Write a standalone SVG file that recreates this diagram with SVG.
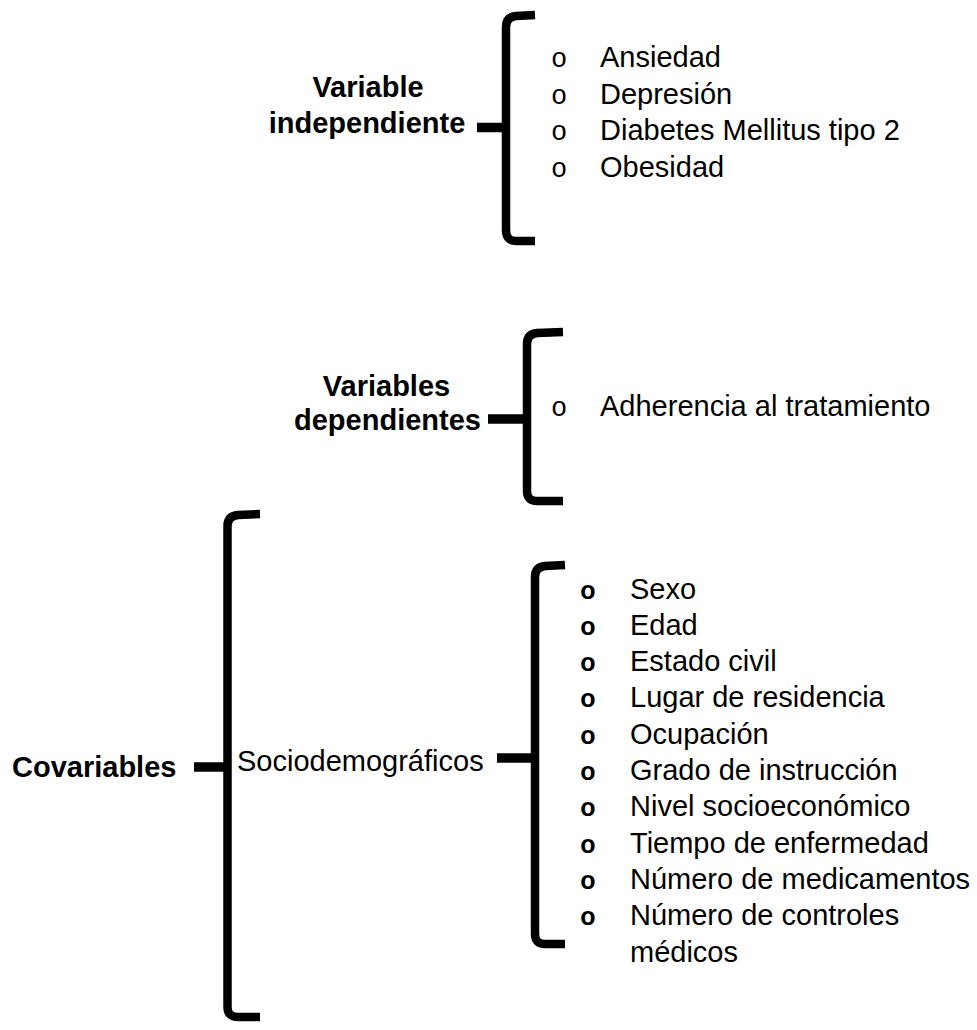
<svg xmlns="http://www.w3.org/2000/svg" width="977" height="1030" viewBox="0 0 977 1030">
<style>
.t{font-family:"Liberation Sans",Arial,sans-serif;font-size:29px;fill:#000}
.b{font-weight:bold;text-anchor:middle}
.bl{font-family:"Liberation Mono","Courier New",monospace;font-size:27px;text-anchor:middle;fill:#000}
.bb{font-family:"Liberation Sans",Arial,sans-serif;font-size:25px;font-weight:bold;text-anchor:middle;fill:#000}
.br{fill:none;stroke:#000;stroke-width:8.5;stroke-linejoin:round}
.st{fill:none;stroke:#000;stroke-width:9.5}
</style>
<rect width="977" height="1030" fill="#fff"/>
<g id="connectors">
<path class="br" d="M535,15 L516,16 Q506,17 506,27 L506,230 Q506,241 516,241 L535,241"/>
<path class="st" d="M477,127.5 L504,127.5"/>
<path class="br" d="M563,332 L537,333 Q527,334 527,344 L527,491 Q527,501 537,501 L563,501"/>
<path class="st" d="M488,419 L525,419"/>
<path class="br" d="M260,514 L238,515 Q227.5,516 227.5,526 L227.5,1007 Q227.5,1017 238,1017 L260,1017"/>
<path class="st" d="M194,767 L225,767"/>
<path class="br" d="M565,565 L545,566 Q535,567 535,577 L535,934 Q535,944 545,944 L565,944"/>
<path class="st" d="M497,758 L533,758"/>
</g>
<g id="variable-independiente">
<text class="t b" x="368" y="97">Variable</text>
<text class="t b" x="367" y="133">independiente</text>
</g>
<g id="lista-independiente">
<text class="bl" x="559" y="67">o</text><text class="t" x="600" y="67">Ansiedad</text>
<text class="bl" x="559" y="103.5">o</text><text class="t" x="600" y="103.5">Depresión</text>
<text class="bl" x="559" y="140">o</text><text class="t" x="600" y="140">Diabetes Mellitus tipo 2</text>
<text class="bl" x="559" y="176.7">o</text><text class="t" x="600" y="176.7">Obesidad</text>
</g>
<g id="variables-dependientes">
<text class="t b" x="386.5" y="396">Variables</text>
<text class="t b" x="387.5" y="430">dependientes</text>
</g>
<g id="lista-dependientes">
<text class="bl" x="559" y="416">o</text><text class="t" x="600" y="416">Adherencia al tratamiento</text>
</g>
<g id="covariables">
<text class="t" font-weight="bold" x="12" y="777">Covariables</text>
</g>
<g id="sociodemograficos">
<text class="t" x="237" y="771">Sociodemográficos</text>
</g>
<g id="lista-sociodemograficos">
<text class="bb" x="588" y="598.5">o</text><text class="t" x="630" y="598.5">Sexo</text>
<text class="bb" x="588" y="634.8">o</text><text class="t" x="630" y="634.8">Edad</text>
<text class="bb" x="588" y="671.1">o</text><text class="t" x="630" y="671.1">Estado civil</text>
<text class="bb" x="588" y="707.4">o</text><text class="t" x="630" y="707.4">Lugar de residencia</text>
<text class="bb" x="588" y="743.7">o</text><text class="t" x="630" y="743.7">Ocupación</text>
<text class="bb" x="588" y="780">o</text><text class="t" x="630" y="780">Grado de instrucción</text>
<text class="bb" x="588" y="816.3">o</text><text class="t" x="630" y="816.3">Nivel socioeconómico</text>
<text class="bb" x="588" y="852.6">o</text><text class="t" x="630" y="852.6">Tiempo de enfermedad</text>
<text class="bb" x="588" y="888.9">o</text><text class="t" x="630" y="888.9">Número de medicamentos</text>
<text class="bb" x="588" y="925.2">o</text><text class="t" x="630" y="925.2">Número de controles</text>
<text class="t" x="630" y="961.5">médicos</text>
</g>
</svg>
